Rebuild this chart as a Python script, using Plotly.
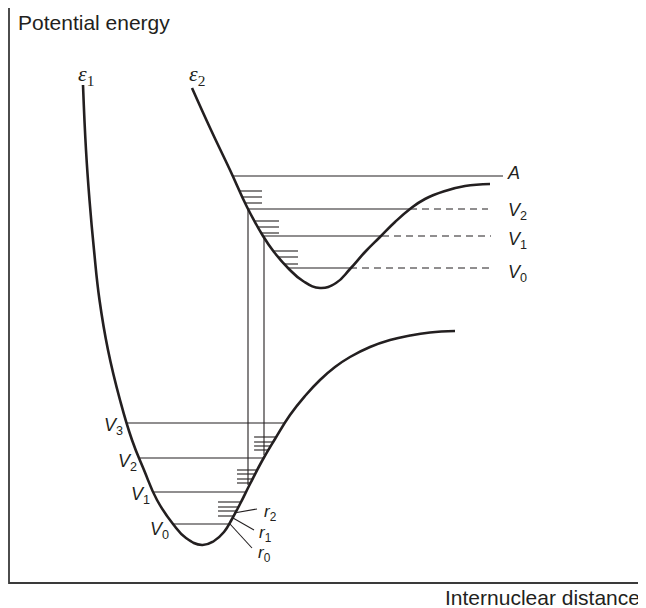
import plotly.graph_objects as go

INK = "#231f20"

# --- potential curves (x: internuclear distance, y: energy; picture units, y downward) ---
lower_x = [83, 86, 89.5, 94, 99.5, 108, 120, 132, 144, 157, 173, 186, 202, 214, 224, 232, 240, 250, 262, 275, 290, 305, 320, 335, 350, 370, 390, 410, 430, 455]
lower_y = [85, 150, 200, 250, 300, 350, 400, 440, 470, 500, 524, 538, 545, 541, 532, 519, 504, 484, 461, 439, 415, 396, 380, 367, 357, 347, 340, 335.5, 332.5, 331]

upper_x = [192, 211, 230, 247, 263, 274, 288, 303, 320, 336, 350, 365, 380, 395, 410, 425, 445, 465, 490]
upper_y = [88, 130, 170, 207, 236, 252, 268, 281, 288, 283, 269, 252, 237, 222, 209, 199, 191, 186, 184]

# --- vibrational levels, lower state ---
low_lvl_y = [423, 458, 492, 524]
low_lvl_x0 = [127, 140, 153, 173]
low_lvl_x1 = [284, 263, 247, 229]
low_lvl_names = ["3", "2", "1", "0"]

# --- vibrational levels, upper state ---
up_lvl_y = [209, 236, 268]
up_lvl_x0 = [248, 263, 288]
up_lvl_x1 = [410, 382, 350]
up_dash_x1 = [488, 491, 491]
up_lvl_names = ["2", "1", "0"]

# dissociation level A
A_y = 176
A_x0, A_x1 = 233, 503

# --- rotational sub-levels ---
up_rot_y = [191, 197, 203, 221, 227, 233, 251, 257, 264]
up_rot_x0 = [240, 242, 245, 254, 257, 261, 273, 278, 284]
up_rot_x1 = [262, 262, 262, 279, 279, 279, 298, 298, 298]

low_rot_y = [437, 442, 446, 450, 470, 474, 479, 483, 502, 507, 511, 516]
low_rot_x0 = [254, 254, 254, 254, 237, 237, 237, 237, 218, 218, 218, 218]
low_rot_x1 = [276, 273, 271, 268, 257, 255, 252, 250, 241, 238, 236, 234]

# --- transitions (vertical lines) ---
trans_x = [248, 264]
trans_y0 = [209, 236]
trans_y1 = [485, 455]

# --- r leader lines ---
r_names = ["2", "1", "0"]
r_lx0 = [234, 233, 230]
r_ly0 = [513, 518, 524]
r_lx1 = [257, 254, 252]
r_ly1 = [509, 530, 548]
r_text_y = [513, 534, 554]

# page offset of the plot div (browser body margin)
OFF = 8


def segs(x0s, y0s, x1s, y1s):
    xs, ys = [], []
    for a, b, c, d in zip(x0s, y0s, x1s, y1s):
        xs += [a, c, None]
        ys += [b, d, None]
    return xs, ys


fig = go.Figure()

def add_lines(xs, ys, width=1.1, color=INK, dash=None):
    fig.add_trace(go.Scatter(x=xs, y=ys, mode="lines", hoverinfo="skip",
                             line=dict(color=color, width=width, dash=dash)))

# axes
add_lines([9, 9, 640], [8, 583, 583], width=1.8, color="#3a3a3a")

# curves
fig.add_trace(go.Scatter(x=lower_x, y=lower_y, mode="lines", hoverinfo="skip",
                         line=dict(color=INK, width=2.6, shape="spline", smoothing=1.3)))
fig.add_trace(go.Scatter(x=upper_x, y=upper_y, mode="lines", hoverinfo="skip",
                         line=dict(color=INK, width=2.6, shape="spline", smoothing=1.3)))

# levels
xs, ys = segs(low_lvl_x0, low_lvl_y, low_lvl_x1, low_lvl_y)
add_lines(xs, ys)
xs, ys = segs(up_lvl_x0, up_lvl_y, up_lvl_x1, up_lvl_y)
add_lines(xs, ys)
xs, ys = segs(up_lvl_x1, up_lvl_y, up_dash_x1, up_lvl_y)
add_lines(xs, ys, dash="7px,5px")
add_lines([A_x0, A_x1], [A_y, A_y])

# rotational
xs, ys = segs(up_rot_x0, up_rot_y, up_rot_x1, up_rot_y)
add_lines(xs, ys)
xs, ys = segs(low_rot_x0, low_rot_y, low_rot_x1, low_rot_y)
add_lines(xs, ys)

# transitions
xs, ys = segs(trans_x, trans_y0, trans_x, trans_y1)
add_lines(xs, ys)

# r leaders
xs, ys = segs(r_lx0, r_ly0, r_lx1, r_ly1)
add_lines(xs, ys)

ann = []
sans = "Liberation Sans, Arial, sans-serif"
serif = "Liberation Serif, Times New Roman, serif"

def label(text, x, y, size=18, family=sans, xanchor="left", yanchor="middle"):
    ann.append(dict(text=text, x=x, y=y, xref="x", yref="y", showarrow=False,
                    xanchor=xanchor, yanchor=yanchor,
                    font=dict(family=family, size=size, color=INK)))

label("Potential energy", 16, 22, size=21)
label("Internuclear distance", 642, 597, size=21, xanchor="right")
label("<i>ε</i><sub>1</sub>", 76, 75, size=22, family=serif)
label("<i>ε</i><sub>2</sub>", 187, 75, size=22, family=serif)
label("<i>A</i>", 505, 173, size=18)

low_lab_x = [102, 116, 129, 148]
low_lab_y = [426, 462, 495, 530]
for n, x, y in zip(low_lvl_names, low_lab_x, low_lab_y):
    label(f"<i>V</i><sub>{n}</sub>", x, y)

up_lab_y = [211, 240, 273]
for n, y in zip(up_lvl_names, up_lab_y):
    label(f"<i>V</i><sub>{n}</sub>", 506, y)

r_text_x = [262, 257, 256]
for n, x, y in zip(r_names, r_text_x, r_text_y):
    label(f"<i>r</i><sub>{n}</sub>", x, y, size=17)

fig.update_layout(
    width=646 - OFF, height=608 - OFF,
    margin=dict(l=0, r=0, t=0, b=0),
    paper_bgcolor="white", plot_bgcolor="white",
    showlegend=False,
    xaxis=dict(range=[OFF, 646], visible=False, fixedrange=True),
    yaxis=dict(range=[608, OFF], visible=False, fixedrange=True),
    annotations=ann,
)

fig.write_html("out.html")
